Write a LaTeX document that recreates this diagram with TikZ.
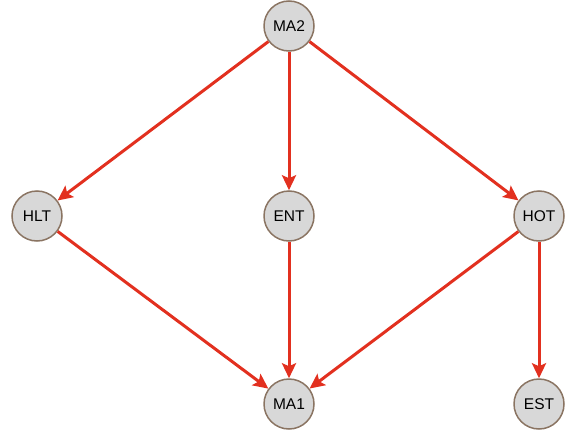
\documentclass[tikz,border=0pt]{standalone}
\usepackage{fontspec}
\setmainfont{Liberation Sans}
\usetikzlibrary{arrows.meta}
\definecolor{nodefill}{HTML}{D8D8D8}
\definecolor{nodeedge}{HTML}{8A7462}
\definecolor{edgered}{HTML}{E2301F}
\begin{document}
\begin{tikzpicture}[x=1pt,y=-1pt,
  var/.style={circle,draw=nodeedge,fill=nodefill,line width=1.5pt,
    minimum size=50pt,inner sep=0pt,font=\fontsize{15.5}{17}\selectfont},
  link/.style={draw=edgered,line width=3pt,
    -{Stealth[length=15pt,width=14pt,inset=3pt]}}]
  \useasboundingbox (0,0) rectangle (567,436);
  \node[var] (MA2) at (289,26)  {MA2};
  \node[var] (HLT) at (37,216)  {HLT};
  \node[var] (ENT) at (289,216) {ENT};
  \node[var] (HOT) at (539,216) {HOT};
  \node[var] (MA1) at (289,404) {MA1};
  \node[var] (EST) at (539,404) {EST};
  \draw[link] (MA2) -- (HLT);
  \draw[link] (MA2) -- (ENT);
  \draw[link] (MA2) -- (HOT);
  \draw[link] (HLT) -- (MA1);
  \draw[link] (ENT) -- (MA1);
  \draw[link] (HOT) -- (MA1);
  \draw[link] (HOT) -- (EST);
\end{tikzpicture}
\end{document}
